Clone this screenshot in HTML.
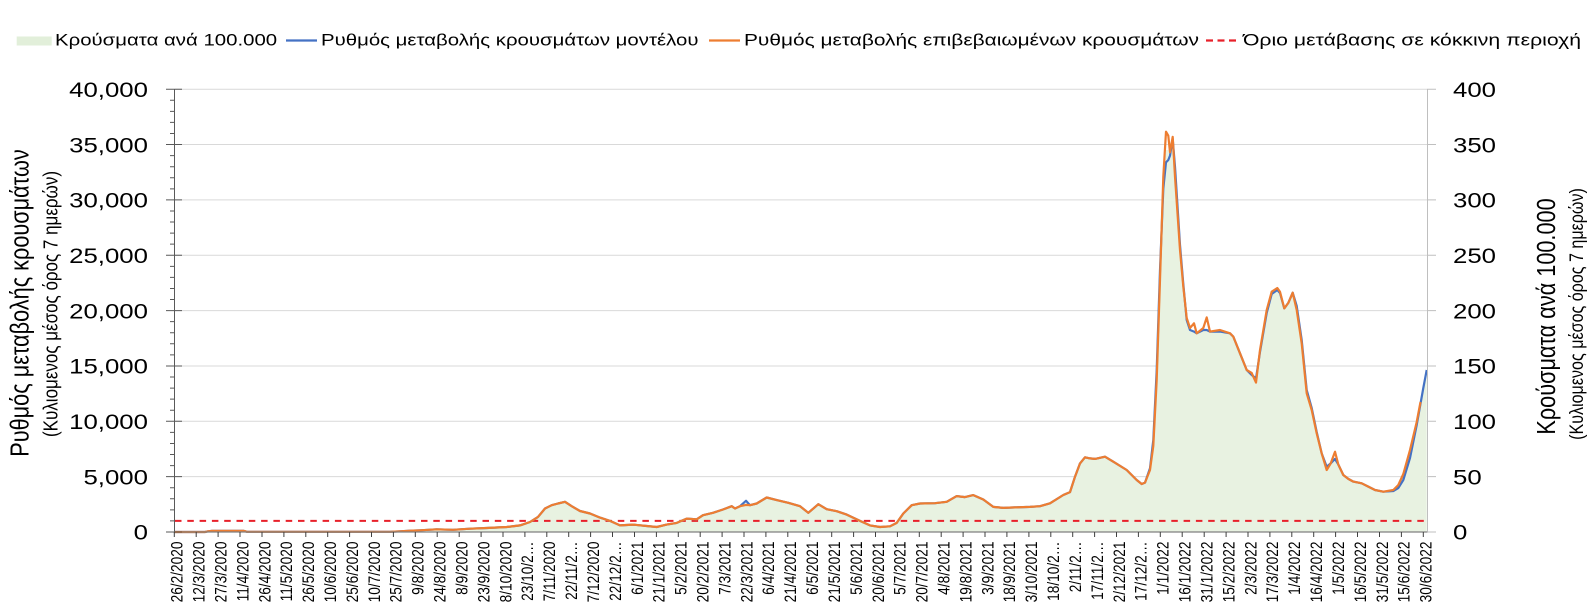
<!DOCTYPE html>
<html><head><meta charset="utf-8"><style>
html,body{margin:0;padding:0;background:#fff;}
svg{display:block;}
text{font-family:"Liberation Sans","DejaVu Sans",sans-serif;fill:#000;}
</style></head><body>
<svg width="1588" height="607" viewBox="0 0 1588 607" xmlns="http://www.w3.org/2000/svg">
<rect width="1588" height="607" fill="#fff"/>
<!-- legend -->
<rect x="16.7" y="36.5" width="35" height="9" fill="#e2efda"/>
<text font-size="17" transform="translate(55,45.3) scale(1.2,1)">Κρούσματα ανά 100.000</text>
<line x1="286" y1="40.5" x2="317" y2="40.5" stroke="#4472c4" stroke-width="2.2"/>
<text font-size="17" transform="translate(321,45.3) scale(1.2,1)">Ρυθμός μεταβολής κρουσμάτων μοντέλου</text>
<line x1="709" y1="40.5" x2="740" y2="40.5" stroke="#ed7d31" stroke-width="2.2"/>
<text font-size="17" x="744" y="45.3" textLength="455" lengthAdjust="spacingAndGlyphs">Ρυθμός μεταβολής επιβεβαιωμένων κρουσμάτων</text>
<line x1="1206" y1="40.5" x2="1237" y2="40.5" stroke="#e8202a" stroke-width="2.2" stroke-dasharray="7,4.5"/>
<text font-size="17" x="1243" y="45.3" textLength="338" lengthAdjust="spacingAndGlyphs">Όριο μετάβασης σε κόκκινη περιοχή</text>

<!-- gridlines -->
<g stroke="#d9d9d9" stroke-width="1">
<line x1="175" y1="476.65" x2="1427" y2="476.65"/>
<line x1="175" y1="421.3" x2="1427" y2="421.3"/>
<line x1="175" y1="365.95" x2="1427" y2="365.95"/>
<line x1="175" y1="310.6" x2="1427" y2="310.6"/>
<line x1="175" y1="255.25" x2="1427" y2="255.25"/>
<line x1="175" y1="199.9" x2="1427" y2="199.9"/>
<line x1="175" y1="144.55" x2="1427" y2="144.55"/>
<line x1="175" y1="89.2" x2="1427" y2="89.2"/>
</g>

<!-- bars area -->
<path fill="#e8f2e1" d="M174.3,532 L205,532 L208,531.3 L212,530.9 L244,530.9 L247,531.8 L390,531.8 L400,531.3 L410,530.7 L420,530.3 L436.7,529.3 L453,529.8 L470,528.7 L486.7,528 L506.7,527 L520,525.4 L530,522 L538,516.9 L545,508.5 L551.7,505.2 L558,503.5 L565,501.8 L571.7,506.2 L580,511 L590,513.5 L600,517.6 L610,520.9 L620,525.4 L633,524.6 L646.7,526 L656.7,527 L666.7,524.6 L676.7,522.9 L686.7,518.6 L696.7,519.3 L703,515.2 L713,512.8 L723,509.5 L731.7,506.2 L735,508.5 L740,506.2 L746,503 L750,505.2 L756.7,503.5 L766.7,497.5 L776.7,500.1 L788.3,502.8 L800,506.2 L808.3,512.8 L813,508.8 L818.3,504.2 L826.7,509.2 L836.7,511.2 L846.7,514.6 L860,520.9 L870,525.4 L880,527 L890,526.3 L896.7,522.9 L903.3,513.5 L911.7,505.2 L920,503.5 L935,503.2 L946.7,501.8 L956.7,496.1 L965,497.1 L973.3,495.1 L983.3,499.5 L993.3,506.9 L1003.3,507.9 L1015,507.4 L1030,506.9 L1040,506.2 L1050,503.3 L1063.3,495 L1070,492.1 L1075,476.7 L1080,463.4 L1085,457.3 L1090,458.4 L1095,458.9 L1105,456.7 L1113.3,461.7 L1126.7,470 L1136.7,480 L1141.7,484 L1145,482.6 L1150,468.3 L1153.3,443.4 L1156.7,376.7 L1160,276.7 L1163.3,185 L1166,150 L1168.3,150 L1170,155.6 L1172.7,139 L1175,170 L1180,250 L1183.3,286.7 L1186.7,320 L1190,330 L1194,331.6 L1196.7,333.3 L1203.3,330 L1206.7,330 L1210,331.6 L1220,331.6 L1230,333.3 L1233.3,336.6 L1240,353.3 L1246.7,370 L1251.7,375 L1256,378.4 L1260,350 L1266.7,310 L1271.7,291.7 L1277.3,289 L1280,291.8 L1284.3,308.4 L1288.3,302.9 L1292.7,292.7 L1296.7,310 L1301.7,343.4 L1306.7,393.3 L1311.7,410 L1316.7,433.4 L1321.7,453.4 L1326.7,466.7 L1330.7,463.4 L1335,458.9 L1338.3,464.5 L1343.3,475 L1348.3,478.9 L1353.3,481.6 L1361.7,483.3 L1368.3,486.6 L1375,490 L1383.3,491.7 L1393.3,491 L1398.3,486.6 L1403.3,476.7 L1410,453.4 L1416.7,420 L1423.3,386.7 L1426.7,370 L1426.7,532 Z"/>

<!-- red threshold -->
<line x1="175" y1="520.9" x2="1427" y2="520.9" stroke="#e8202a" stroke-width="2" stroke-dasharray="6.5,5.8"/>

<!-- blue line -->
<path fill="none" stroke="#4472c4" stroke-width="2.2" stroke-linejoin="round" d="M174.3,532 L205,532 L208,531.3 L212,530.9 L244,530.9 L247,531.8 L390,531.8 L400,531.3 L410,530.7 L420,530.3 L436.7,529.3 L453,529.8 L470,528.7 L486.7,528 L506.7,527 L520,525.4 L530,522 L538,516.9 L545,508.5 L551.7,505.2 L558,503.5 L565,501.8 L571.7,506.2 L580,511 L590,513.5 L600,517.6 L610,520.9 L620,525.4 L633,524.6 L646.7,526 L656.7,527 L666.7,524.6 L676.7,522.9 L686.7,518.6 L696.7,519.3 L703,515.2 L713,512.8 L723,509.5 L731.7,506.2 L735,508.5 L740,506.2 L746,500.8 L750,505.2 L756.7,503.5 L766.7,497.5 L776.7,500.1 L788.3,502.8 L800,506.2 L808.3,512.8 L813,508.8 L818.3,504.2 L826.7,509.2 L836.7,511.2 L846.7,514.6 L860,520.9 L870,525.4 L880,527 L890,526.3 L896.7,522.9 L903.3,513.5 L911.7,505.2 L920,503.5 L935,503.2 L946.7,501.8 L956.7,496.1 L965,497.1 L973.3,495.1 L983.3,499.5 L993.3,506.9 L1003.3,507.9 L1015,507.4 L1030,506.9 L1040,506.2 L1050,503.3 L1063.3,495 L1070,492.1 L1075,476.7 L1080,463.4 L1085,457.3 L1090,458.4 L1095,458.9 L1105,456.7 L1113.3,461.7 L1126.7,470 L1136.7,480 L1141.7,484 L1145,482.6 L1150,468.3 L1153.3,440 L1156.7,370 L1160,270 L1163.3,188.8 L1166,162.3 L1168.3,160 L1170,155.6 L1172.7,139 L1175,166.7 L1180,245 L1183.3,284 L1186.7,320 L1190,330 L1194,331.6 L1196.7,333.3 L1203.3,330 L1206.7,330 L1210,331.6 L1220,331.6 L1230,333.3 L1233.3,336.6 L1240,353.3 L1246.7,370 L1251.7,375 L1256,378.4 L1260,352 L1266.7,313 L1271.7,294 L1277.3,290 L1280,293 L1284.3,308.4 L1288.3,302.9 L1292.7,292.7 L1296.7,306 L1301.7,340 L1306.7,390 L1311.7,408 L1316.7,432 L1321.7,453.4 L1326.7,466.7 L1330.7,463.4 L1335,458.9 L1338.3,464.5 L1343.3,475 L1348.3,478.9 L1353.3,481.6 L1361.7,483.3 L1368.3,486.6 L1375,490 L1383.3,491.7 L1393.3,491 L1398.3,488 L1403.3,480 L1410,458 L1416.7,425 L1423.3,388 L1426.7,370"/>

<!-- orange line -->
<path fill="none" stroke="#ed7d31" stroke-width="2.2" stroke-linejoin="round" d="M174.3,532 L205,532 L208,531.3 L212,530.9 L244,530.9 L247,531.8 L390,531.8 L400,531.3 L410,530.7 L420,530.3 L436.7,529.3 L453,529.8 L470,528.7 L486.7,528 L506.7,527 L520,525.4 L530,522 L538,516.9 L545,508.5 L551.7,505.2 L558,503.5 L565,501.8 L571.7,506.2 L580,511 L590,513.5 L600,517.6 L610,520.9 L620,525.4 L633,524.6 L646.7,526 L656.7,527 L666.7,524.6 L676.7,522.9 L686.7,518.6 L696.7,519.3 L703,515.2 L713,512.8 L723,509.5 L731.7,506.2 L735,508.5 L740,506.2 L746,504.9 L750,505.2 L756.7,503.5 L766.7,497.5 L776.7,500.1 L788.3,502.8 L800,506.2 L808.3,512.8 L813,508.8 L818.3,504.2 L826.7,509.2 L836.7,511.2 L846.7,514.6 L860,520.9 L870,525.4 L880,527 L890,526.3 L896.7,522.9 L903.3,513.5 L911.7,505.2 L920,503.5 L935,503.2 L946.7,501.8 L956.7,496.1 L965,497.1 L973.3,495.1 L983.3,499.5 L993.3,506.9 L1003.3,507.9 L1015,507.4 L1030,506.9 L1040,506.2 L1050,503.3 L1063.3,495 L1070,492.1 L1075,476.7 L1080,463.4 L1085,457.3 L1090,458.4 L1095,458.9 L1105,456.7 L1113.3,461.7 L1126.7,470 L1136.7,480 L1141.7,484 L1145,482.6 L1150,470 L1153.3,446 L1156.7,380 L1160,280 L1163.3,176.7 L1166,131.7 L1168.3,135.7 L1170,152.3 L1172.7,136.8 L1175,176.7 L1180,250 L1183.3,286.7 L1186.7,318 L1190,328 L1194,323.3 L1196.7,333.3 L1203.3,328 L1206.7,317.4 L1210,331.6 L1220,330 L1230,333.3 L1233.3,336.6 L1240,353.3 L1246.7,370 L1251.7,373 L1256,382.6 L1260,350 L1266.7,310 L1271.7,291.7 L1277.3,288 L1280,291.8 L1284.3,308.4 L1288.3,302.9 L1292.7,292.7 L1296.7,310 L1301.7,343.4 L1306.7,393.3 L1311.7,410 L1316.7,433.4 L1321.7,453.4 L1326.7,470 L1330.7,463.4 L1335,451.7 L1338.3,464.5 L1343.3,475 L1348.3,478.9 L1353.3,481.6 L1361.7,483.3 L1368.3,486.6 L1375,490 L1383.3,491.7 L1393.3,490 L1398.3,485 L1403.3,474 L1410,450 L1416.7,422 L1420.5,402"/>

<!-- axes -->
<line x1="174.5" y1="89" x2="174.5" y2="532" stroke="#595959" stroke-width="1"/>
<line x1="1427.5" y1="89" x2="1427.5" y2="532" stroke="#bfbfbf" stroke-width="1"/>
<line x1="174" y1="532" x2="1428" y2="532" stroke="#808080" stroke-width="1.2"/>
<g stroke="#595959" stroke-width="1">
<path d="M166,532H182M166,476.65H182M166,421.3H182M166,365.95H182M166,310.6H182M166,255.25H182M166,199.9H182M166,144.55H182M166,89.2H182"/>
<path d="M170,520.93H175M170,509.86H175M170,498.79H175M170,487.72H175M170,465.58H175M170,454.51H175M170,443.44H175M170,432.37H175M170,410.23H175M170,399.16H175M170,388.09H175M170,377.02H175M170,354.88H175M170,343.81H175M170,332.74H175M170,321.67H175M170,299.53H175M170,288.46H175M170,277.39H175M170,266.32H175M170,244.18H175M170,233.11H175M170,222.04H175M170,210.97H175M170,188.83H175M170,177.76H175M170,166.69H175M170,155.62H175M170,133.48H175M170,122.41H175M170,111.34H175M170,100.27H175"/>
</g>
<g stroke="#bfbfbf" stroke-width="1">
<path d="M1427,532H1436M1427,476.65H1436M1427,421.3H1436M1427,365.95H1436M1427,310.6H1436M1427,255.25H1436M1427,199.9H1436M1427,144.55H1436M1427,89.2H1436"/>
</g>
<g stroke="#404040" stroke-width="1">
<path d="M174.3,532V537M196.2,532V537M218.1,532V537M240,532V537M262,532V537M283.9,532V537M305.8,532V537M327.7,532V537M349.6,532V537M371.5,532V537M393.4,532V537M415.3,532V537M437.2,532V537M459.2,532V537M481.1,532V537M503,532V537M524.9,532V537M546.8,532V537M568.7,532V537M590.6,532V537M612.5,532V537M634.5,532V537M656.4,532V537M678.3,532V537M700.2,532V537M722.1,532V537M744,532V537M765.9,532V537M787.8,532V537M809.7,532V537M831.7,532V537M853.6,532V537M875.5,532V537M897.4,532V537M919.3,532V537M941.2,532V537M963.1,532V537M985,532V537M1006.9,532V537M1028.9,532V537M1050.8,532V537M1072.7,532V537M1094.6,532V537M1116.5,532V537M1138.4,532V537M1160.3,532V537M1182.2,532V537M1204.2,532V537M1226.1,532V537M1248,532V537M1269.9,532V537M1291.8,532V537M1313.7,532V537M1335.6,532V537M1357.5,532V537M1379.5,532V537M1401.4,532V537M1423.3,532V537"/>
</g>

<!-- left tick labels -->
<g font-size="21.5" text-anchor="end">
<text transform="translate(148,96.9) scale(1.2,1)">40,000</text>
<text transform="translate(148,152.25) scale(1.2,1)">35,000</text>
<text transform="translate(148,207.6) scale(1.2,1)">30,000</text>
<text transform="translate(148,262.95) scale(1.2,1)">25,000</text>
<text transform="translate(148,318.3) scale(1.2,1)">20,000</text>
<text transform="translate(148,373.65) scale(1.2,1)">15,000</text>
<text transform="translate(148,429) scale(1.2,1)">10,000</text>
<text transform="translate(148,484.35) scale(1.2,1)">5,000</text>
<text transform="translate(148,539.7) scale(1.2,1)">0</text>
</g>
<!-- right tick labels -->
<g font-size="21.5">
<text transform="translate(1453,96.9) scale(1.2,1)">400</text>
<text transform="translate(1453,152.25) scale(1.2,1)">350</text>
<text transform="translate(1453,207.6) scale(1.2,1)">300</text>
<text transform="translate(1453,262.95) scale(1.2,1)">250</text>
<text transform="translate(1453,318.3) scale(1.2,1)">200</text>
<text transform="translate(1453,373.65) scale(1.2,1)">150</text>
<text transform="translate(1453,429) scale(1.2,1)">100</text>
<text transform="translate(1453,484.35) scale(1.2,1)">50</text>
<text transform="translate(1453,539.7) scale(1.2,1)">0</text>
</g>

<!-- axis titles -->
<text font-size="21.7" text-anchor="middle" transform="translate(28.5,303) scale(1.2,1) rotate(-90)">Ρυθμός μεταβολής κρουσμάτων</text>
<text font-size="17" text-anchor="middle" transform="translate(57.5,304) scale(1.2,1) rotate(-90)">(Κυλιομενος μέσος όρος 7 ημερών)</text>
<text font-size="21.7" text-anchor="middle" transform="translate(1555,316.5) scale(1.2,1) rotate(-90)">Κρούσματα ανά 100.000</text>
<text font-size="16.1" text-anchor="middle" transform="translate(1583,314) scale(1.2,1) rotate(-90)">(Κυλιομενος μέσος όρος 7 ημερών)</text>

<!-- x labels -->
<g font-size="13.7" text-anchor="end">
<text transform="translate(182.6,541.5) scale(1.2,1) rotate(-90)">26/2/2020</text>
<text transform="translate(204.5,541.5) scale(1.2,1) rotate(-90)">12/3/2020</text>
<text transform="translate(226.4,541.5) scale(1.2,1) rotate(-90)">27/3/2020</text>
<text transform="translate(248.3,541.5) scale(1.2,1) rotate(-90)">11/4/2020</text>
<text transform="translate(270.3,541.5) scale(1.2,1) rotate(-90)">26/4/2020</text>
<text transform="translate(292.2,541.5) scale(1.2,1) rotate(-90)">11/5/2020</text>
<text transform="translate(314.1,541.5) scale(1.2,1) rotate(-90)">26/5/2020</text>
<text transform="translate(336,541.5) scale(1.2,1) rotate(-90)">10/6/2020</text>
<text transform="translate(357.9,541.5) scale(1.2,1) rotate(-90)">25/6/2020</text>
<text transform="translate(379.8,541.5) scale(1.2,1) rotate(-90)">10/7/2020</text>
<text transform="translate(401.7,541.5) scale(1.2,1) rotate(-90)">25/7/2020</text>
<text transform="translate(423.6,541.5) scale(1.2,1) rotate(-90)">9/8/2020</text>
<text transform="translate(445.5,541.5) scale(1.2,1) rotate(-90)">24/8/2020</text>
<text transform="translate(467.5,541.5) scale(1.2,1) rotate(-90)">8/9/2020</text>
<text transform="translate(489.4,541.5) scale(1.2,1) rotate(-90)">23/9/2020</text>
<text transform="translate(511.3,541.5) scale(1.2,1) rotate(-90)">8/10/2020</text>
<text transform="translate(533.2,541.5) scale(1.2,1) rotate(-90)">23/10/2…</text>
<text transform="translate(555.1,541.5) scale(1.2,1) rotate(-90)">7/11/2020</text>
<text transform="translate(577,541.5) scale(1.2,1) rotate(-90)">22/11/2…</text>
<text transform="translate(598.9,541.5) scale(1.2,1) rotate(-90)">7/12/2020</text>
<text transform="translate(620.8,541.5) scale(1.2,1) rotate(-90)">22/12/2…</text>
<text transform="translate(642.8,541.5) scale(1.2,1) rotate(-90)">6/1/2021</text>
<text transform="translate(664.7,541.5) scale(1.2,1) rotate(-90)">21/1/2021</text>
<text transform="translate(686.6,541.5) scale(1.2,1) rotate(-90)">5/2/2021</text>
<text transform="translate(708.5,541.5) scale(1.2,1) rotate(-90)">20/2/2021</text>
<text transform="translate(730.4,541.5) scale(1.2,1) rotate(-90)">7/3/2021</text>
<text transform="translate(752.3,541.5) scale(1.2,1) rotate(-90)">22/3/2021</text>
<text transform="translate(774.2,541.5) scale(1.2,1) rotate(-90)">6/4/2021</text>
<text transform="translate(796.1,541.5) scale(1.2,1) rotate(-90)">21/4/2021</text>
<text transform="translate(818,541.5) scale(1.2,1) rotate(-90)">6/5/2021</text>
<text transform="translate(840,541.5) scale(1.2,1) rotate(-90)">21/5/2021</text>
<text transform="translate(861.9,541.5) scale(1.2,1) rotate(-90)">5/6/2021</text>
<text transform="translate(883.8,541.5) scale(1.2,1) rotate(-90)">20/6/2021</text>
<text transform="translate(905.7,541.5) scale(1.2,1) rotate(-90)">5/7/2021</text>
<text transform="translate(927.6,541.5) scale(1.2,1) rotate(-90)">20/7/2021</text>
<text transform="translate(949.5,541.5) scale(1.2,1) rotate(-90)">4/8/2021</text>
<text transform="translate(971.4,541.5) scale(1.2,1) rotate(-90)">19/8/2021</text>
<text transform="translate(993.3,541.5) scale(1.2,1) rotate(-90)">3/9/2021</text>
<text transform="translate(1015.2,541.5) scale(1.2,1) rotate(-90)">18/9/2021</text>
<text transform="translate(1037.2,541.5) scale(1.2,1) rotate(-90)">3/10/2021</text>
<text transform="translate(1059.1,541.5) scale(1.2,1) rotate(-90)">18/10/2…</text>
<text transform="translate(1081,541.5) scale(1.2,1) rotate(-90)">2/11/2…</text>
<text transform="translate(1102.9,541.5) scale(1.2,1) rotate(-90)">17/11/2…</text>
<text transform="translate(1124.8,541.5) scale(1.2,1) rotate(-90)">2/12/2021</text>
<text transform="translate(1146.7,541.5) scale(1.2,1) rotate(-90)">17/12/2…</text>
<text transform="translate(1168.6,541.5) scale(1.2,1) rotate(-90)">1/1/2022</text>
<text transform="translate(1190.5,541.5) scale(1.2,1) rotate(-90)">16/1/2022</text>
<text transform="translate(1212.5,541.5) scale(1.2,1) rotate(-90)">31/1/2022</text>
<text transform="translate(1234.4,541.5) scale(1.2,1) rotate(-90)">15/2/2022</text>
<text transform="translate(1256.3,541.5) scale(1.2,1) rotate(-90)">2/3/2022</text>
<text transform="translate(1278.2,541.5) scale(1.2,1) rotate(-90)">17/3/2022</text>
<text transform="translate(1300.1,541.5) scale(1.2,1) rotate(-90)">1/4/2022</text>
<text transform="translate(1322,541.5) scale(1.2,1) rotate(-90)">16/4/2022</text>
<text transform="translate(1343.9,541.5) scale(1.2,1) rotate(-90)">1/5/2022</text>
<text transform="translate(1365.8,541.5) scale(1.2,1) rotate(-90)">16/5/2022</text>
<text transform="translate(1387.8,541.5) scale(1.2,1) rotate(-90)">31/5/2022</text>
<text transform="translate(1409.7,541.5) scale(1.2,1) rotate(-90)">15/6/2022</text>
<text transform="translate(1431.6,541.5) scale(1.2,1) rotate(-90)">30/6/2022</text>
</g>
</svg>
</body></html>
